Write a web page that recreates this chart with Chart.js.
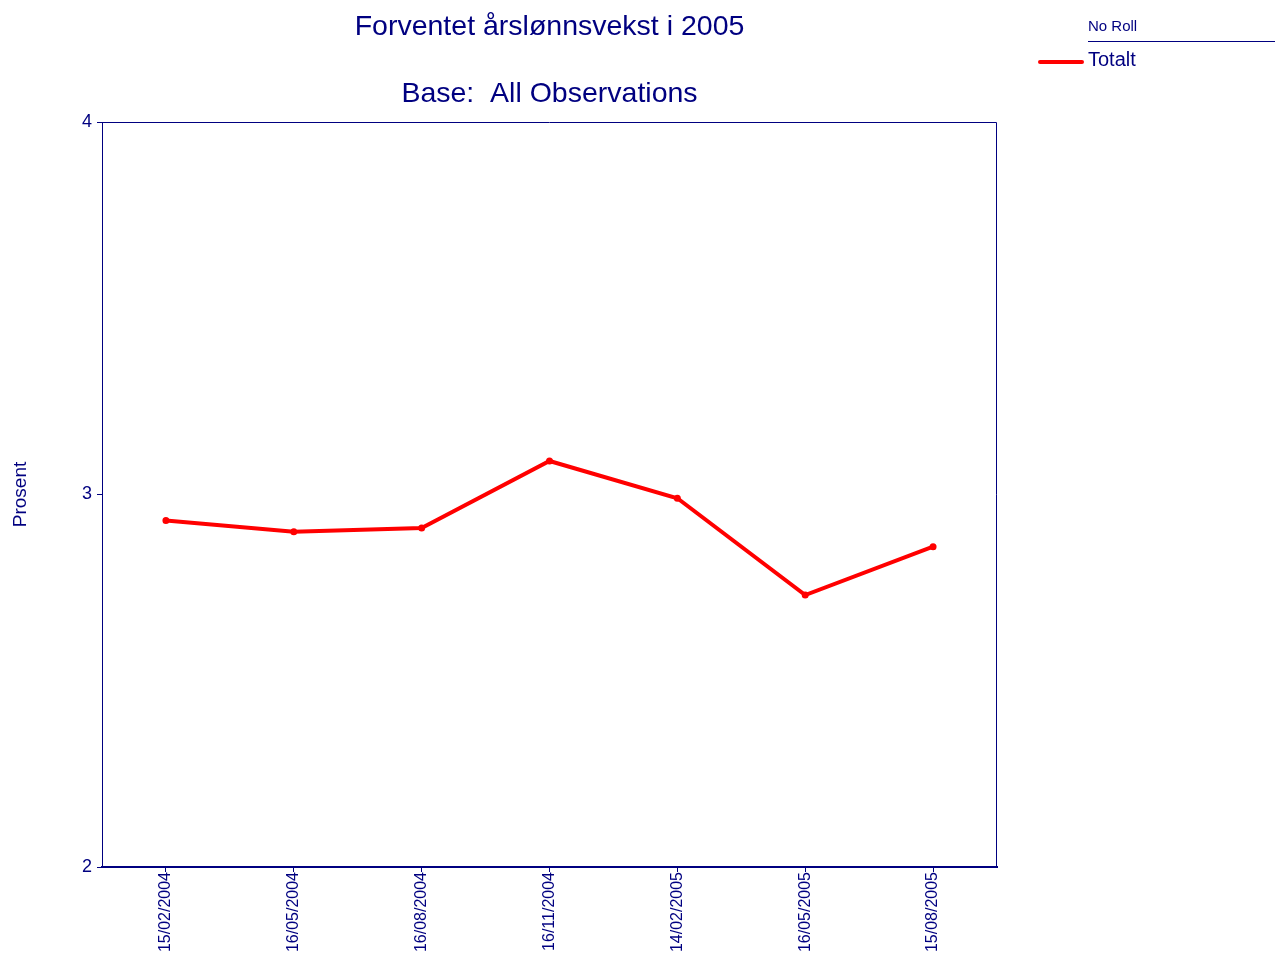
<!DOCTYPE html>
<html>
<head>
<meta charset="utf-8">
<script src="https://cdn.jsdelivr.net/npm/chart.js@4/dist/chart.umd.min.js"></script>
<style>
  html, body { margin: 0; padding: 0; background: #fff; }
  #wrap { width: 1275px; height: 954px; position: relative; }
</style>
</head>
<body>
<div id="wrap"><canvas id="line-chart"></canvas></div>
<script>
var dates = ["15/02/2004", "16/05/2004", "16/08/2004", "16/11/2004", "14/02/2005", "16/05/2005", "15/08/2005"];
var totalt = [2.93, 2.90, 2.91, 3.09, 2.99, 2.73, 2.86];
var yTicks = [2, 3, 4];

var navy = "#000080";
var font = "'Liberation Sans', Arial, sans-serif";

// titles, frame and the little legend top right
var extras = {
    id: 'extras',
    afterDraw: function (chart) {
        var c = chart.ctx;
        var a = chart.chartArea;
        c.save();
        c.strokeStyle = navy;
        c.lineWidth = 1;
        c.beginPath();
        c.moveTo(a.left + 0.5, a.bottom);
        c.lineTo(a.left + 0.5, a.top + 0.5);
        c.lineTo(a.right - 0.5, a.top + 0.5);
        c.lineTo(a.right - 0.5, a.bottom);
        c.stroke();

        c.fillStyle = navy;
        c.textAlign = 'center';
        c.textBaseline = 'middle';
        c.font = "28.5px " + font;
        var mid = (a.left + a.right) / 2;
        c.fillText("Forventet årslønnsvekst i 2005", mid, 27);
        c.fillText("Base:  All Observations", mid, 94);

        c.textAlign = 'left';
        c.font = "15px " + font;
        c.fillText("No Roll", 1088, 27);
        c.beginPath();
        c.moveTo(1088, 41.5);
        c.lineTo(1275, 41.5);
        c.stroke();
        var ds = chart.data.datasets[0];
        c.font = "20px " + font;
        c.fillText(ds.label, 1088, 60);
        c.strokeStyle = ds.borderColor;
        c.lineWidth = 4;
        c.lineCap = 'round';
        c.beginPath();
        c.moveTo(1040, 62);
        c.lineTo(1082, 62);
        c.stroke();
        c.restore();
    }
};

var ctx = document.getElementById("line-chart");

var LineChart = new Chart(ctx, {
    type: 'line',
    data: {
        labels: dates,
        datasets: [{
            label: "Totalt",
            data: totalt,
            borderColor: "#ff0000",
            backgroundColor: "#ff0000",
            borderWidth: 4,
            pointRadius: 1.5,
            pointHoverRadius: 1.5,
            tension: 0
        }]
    },
    options: {
        responsive: true,
        maintainAspectRatio: false,
        animation: false,
        layout: { padding: { left: 0, top: 122, right: 278, bottom: 0 } },
        plugins: {
            legend: { display: false },
            title: { display: false },
            tooltip: { enabled: false }
        },
        scales: {
            x: {
                offset: true,
                grid: { display: true, drawOnChartArea: false, color: navy, tickLength: 5, offset: false },
                border: { color: navy, width: 2 },
                ticks: {
                    color: navy,
                    font: { family: font, size: 16 },
                    minRotation: 90,
                    maxRotation: 90,
                    padding: 0,
                    autoSkip: false
                },
                afterFit: function (s) { s.height = 87; }
            },
            y: {
                min: 2,
                max: 4,
                afterBuildTicks: function (s) {
                    s.ticks = yTicks.map(function (v) { return { value: v }; });
                },
                grid: { display: true, drawOnChartArea: false, color: navy, tickLength: 5 },
                border: { color: navy, width: 1 },
                ticks: {
                    color: navy,
                    font: { family: font, size: 18 },
                    padding: 5
                },
                title: {
                    display: true,
                    text: "Prosent",
                    color: navy,
                    font: { family: font, size: 19 },
                    padding: { top: 9, bottom: 0 }
                },
                afterFit: function (s) { s.width = 102; }
            }
        }
    },
    plugins: [extras]
});
</script>
</body>
</html>
